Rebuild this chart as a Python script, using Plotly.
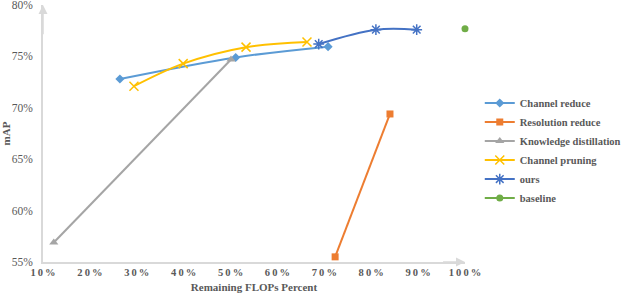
import plotly.graph_objects as go

# Data (percent)
cr_x = [26.4, 51.1, 70.8]
cr_y = [72.8, 74.9, 75.95]
rr_x = [84.0, 72.3]
rr_y = [69.4, 55.5]
kd_x = [12.3, 50.1]
kd_y = [56.9, 74.7]
cp_x = [29.4, 39.9, 53.3, 66.3]
cp_y = [72.1, 74.3, 75.9, 76.4]
ours_x = [68.8, 81.0, 89.7]
ours_y = [76.2, 77.6, 77.6]
base_x = [100.0]
base_y = [77.7]

x_ticks = [10, 20, 30, 40, 50, 60, 70, 80, 90, 100]
y_ticks = [55, 60, 65, 70, 75, 80]

def spaced(v):
    return "\u2009".join(list(f"{v}%"))

fig = go.Figure()
fig.add_trace(go.Scatter(x=cr_x, y=cr_y, name="Channel reduce", mode="lines+markers",
                         line=dict(color="#5b9bd5", width=2, shape="spline"),
                         marker=dict(symbol="diamond", size=7, color="#5b9bd5")))
fig.add_trace(go.Scatter(x=rr_x, y=rr_y, name="Resolution reduce", mode="lines+markers",
                         line=dict(color="#ed7d31", width=2),
                         marker=dict(symbol="square", size=7, color="#ed7d31")))
fig.add_trace(go.Scatter(x=kd_x, y=kd_y, name="Knowledge distillation", mode="lines+markers",
                         line=dict(color="#a5a5a5", width=2),
                         marker=dict(symbol="triangle-up", size=8, color="#a5a5a5")))
fig.add_trace(go.Scatter(x=cp_x, y=cp_y, name="Channel pruning", mode="lines+markers",
                         line=dict(color="#ffc000", width=2, shape="spline"),
                         marker=dict(symbol="x-thin", size=9, color="#ffc000",
                                     line=dict(color="#ffc000", width=1.5))))
fig.add_trace(go.Scatter(x=ours_x, y=ours_y, name="ours", mode="lines+markers",
                         line=dict(color="#4472c4", width=2, shape="spline"),
                         marker=dict(symbol="asterisk", size=9, color="#4472c4",
                                     line=dict(color="#4472c4", width=1.5))))
fig.add_trace(go.Scatter(x=base_x, y=base_y, name="baseline", mode="lines+markers",
                         line=dict(color="#70ad47", width=2),
                         marker=dict(symbol="circle", size=7, color="#70ad47")))
fig.update_traces(cliponaxis=False)

axis_col = "#d9d9d9"
fig.update_layout(
    width=622, height=295,
    margin=dict(l=43, r=157, t=5, b=33, autoexpand=False),
    plot_bgcolor="white", paper_bgcolor="white",
    font=dict(family="Liberation Serif", color="#595959", size=11),
    legend=dict(x=1.035, y=0.675, xanchor="left", yanchor="top",
                font=dict(family="Liberation Serif", size=10.5, color="#595959", weight="bold"),
                tracegroupgap=0, itemwidth=30, bgcolor="rgba(0,0,0,0)"),
    xaxis=dict(range=[10, 100], tickvals=x_ticks, ticktext=[spaced(v) for v in x_ticks],
               automargin=False, ticklabeloverflow="allow",
               showgrid=False, zeroline=False, showline=True, linecolor=axis_col, linewidth=1.5,
               ticks="", tickfont=dict(family="Liberation Serif", size=10.5, color="#595959", weight="bold"),
               title=dict(text="<b>Remaining FLOPs Percent</b>", standoff=6,
                          font=dict(family="Liberation Serif", size=11, color="#595959"))),
    yaxis=dict(range=[55, 80], tickvals=y_ticks, ticktext=[f"{v}%" for v in y_ticks],
               automargin=False, ticklabeloverflow="allow",
               showgrid=False, zeroline=False, showline=True, linecolor=axis_col, linewidth=1.5,
               ticks="", ticklabelstandoff=6, tickfont=dict(family="Liberation Serif", size=11.5, color="#595959"),
               title=dict(text="<b>mAP</b>", standoff=4,
                          font=dict(family="Liberation Serif", size=11, color="#595959"))),
    showlegend=True,
)

# axis arrows
fig.add_annotation(x=100, y=55, ax=95, ay=55, xref="x", yref="y", axref="x", ayref="y",
                   showarrow=True, arrowhead=2, arrowsize=1.2, arrowwidth=1.5, arrowcolor=axis_col, text="")
fig.add_annotation(x=10, y=80, ax=10, ay=77, xref="x", yref="y", axref="x", ayref="y",
                   showarrow=True, arrowhead=2, arrowsize=1.2, arrowwidth=1.5, arrowcolor=axis_col, text="")

fig.write_html("out.html", config={"displayModeBar": False},
               post_script="document.body.style.margin='0px';document.body.style.overflow='hidden';")
